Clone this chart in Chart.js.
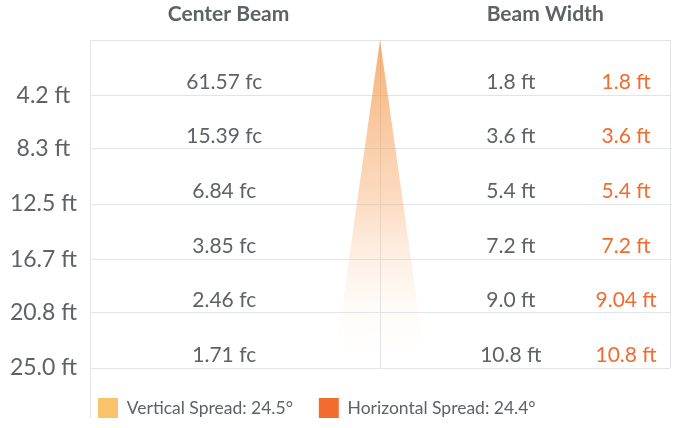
<!DOCTYPE html>
<html>
<head>
<meta charset="utf-8">
<script src="https://cdn.jsdelivr.net/npm/chart.js@4.4.0/dist/chart.umd.min.js"></script>
<style>
  html, body { margin: 0; padding: 0; background: #fff; }
  #wrap { width: 673px; height: 428px; }
</style>
</head>
<body>
<div id="wrap"><canvas id="beam"></canvas></div>
<script>
// beam spread data (distance from fixture, ft)
var distances   = [4.2, 8.3, 12.5, 16.7, 20.8, 25.0];
var centerBeam  = ['61.57', '15.39', '6.84', '3.85', '2.46', '1.71'];
var vertWidth   = ['1.8', '3.6', '5.4', '7.2', '9.0', '10.8'];
var horizWidth  = ['1.8', '3.6', '5.4', '7.2', '9.04', '10.8'];
var headers     = ['Center Beam', 'Beam Width'];
var legendNames = ['Vertical Spread: 24.5°', 'Horizontal Spread: 24.4°'];
var throwFt     = 25;
var coneHalf    = 5.4;   // half of vertical beam width at throwFt

var GRAY   = '#5e6266';
var ORANGE = '#f26b2f';
var LINE   = '#e1e5e8';
var FONT   = 'Lato, "Open Sans", sans-serif';

// x positions of columns, in axis units
var X_MIN = -33.7, X_MAX = 33.7;
var colCenter = -18.1, colVert = 15.2, colHoriz = 28.6;
var headX = [-17.6, 19.2];

var yTicks = [0].concat(distances);

var tableText = {
  id: 'tableText',
  afterDatasetsDraw: function(chart) {
    var ctx = chart.ctx, x = chart.scales.x, y = chart.scales.y;
    ctx.save();
    ctx.font = '21px ' + FONT;
    ctx.textAlign = 'center';
    ctx.textBaseline = 'middle';
    distances.forEach(function(d, i) {
      var py = y.getPixelForValue(d) - 13;
      ctx.fillStyle = GRAY;
      ctx.fillText(centerBeam[i] + ' fc', x.getPixelForValue(colCenter), py);
      ctx.fillText(vertWidth[i] + ' ft', x.getPixelForValue(colVert), py);
      ctx.fillStyle = ORANGE;
      ctx.fillText(horizWidth[i] + ' ft', x.getPixelForValue(colHoriz), py);
    });
    // axis rule continues down past the plot
    var a = chart.chartArea;
    ctx.strokeStyle = LINE;
    ctx.lineWidth = 1;
    ctx.beginPath();
    ctx.moveTo(a.left + 0.5, a.bottom);
    ctx.lineTo(a.left + 0.5, 418);
    ctx.stroke();
    ctx.restore();
  }
};

new Chart(document.getElementById('beam'), {
  type: 'scatter',
  data: {
    datasets: [{
      label: 'cone',
      data: [{x: -coneHalf, y: throwFt}, {x: 0, y: 0}, {x: coneHalf, y: throwFt}],
      showLine: true,
      borderWidth: 0,
      pointRadius: 0,
      fill: {value: throwFt},
      backgroundColor: function(c) {
        var a = c.chart.chartArea;
        if (!a) return 'rgba(242,140,50,0.7)';
        var g = c.chart.ctx.createLinearGradient(0, a.top, 0, a.bottom);
        g.addColorStop(0, 'rgba(243,150,70,0.75)');
        g.addColorStop(0.5, 'rgba(247,168,105,0.4)');
        g.addColorStop(1, 'rgba(255,255,255,0)');
        return g;
      }
    }]
  },
  options: {
    responsive: true,
    maintainAspectRatio: false,
    animation: false,
    layout: { padding: { left: 0, right: 3, top: 0, bottom: 0 } },
    plugins: {
      tooltip: { enabled: false },
      legend: {
        position: 'bottom',
        align: 'start',
        fullSize: false,
        labels: {
          boxWidth: 20,
          boxHeight: 20,
          padding: 8,
          color: GRAY,
          font: { family: FONT, size: 17.5 },
          generateLabels: function() {
            return legendNames.map(function(n, i) {
              return {
                text: n + (i === 0 ? '    ' : ''),
                fillStyle: i === 0 ? '#fbc36c' : ORANGE,
                strokeStyle: 'rgba(0,0,0,0)',
                lineWidth: 0,
                fontColor: GRAY,
                datasetIndex: 0
              };
            });
          }
        }
      }
    },
    scales: {
      x: {
        type: 'linear',
        min: X_MIN, max: X_MAX,
        afterBuildTicks: function(s) {
          s.ticks = [{value: X_MIN}, {value: 0}, {value: X_MAX}];
        },
        afterFit: function(s) { s.height = 22; },
        ticks: { display: false },
        border: { display: false },
        grid: { color: LINE, drawTicks: false }
      },
      top: {
        type: 'linear',
        position: 'top',
        min: X_MIN, max: X_MAX,
        afterBuildTicks: function(s) {
          s.ticks = headX.map(function(v) { return {value: v}; });
        },
        afterFit: function(s) { s.height = 40; },
        ticks: {
          autoSkip: false,
          maxRotation: 0,
          padding: 13,
          color: GRAY,
          font: { family: FONT, size: 21, weight: 'bold' },
          callback: function(v, i) { return headers[i]; }
        },
        border: { display: false },
        grid: { display: false, drawTicks: false }
      },
      y: {
        type: 'linear',
        reverse: true,
        min: 0, max: throwFt,
        afterBuildTicks: function(s) {
          s.ticks = yTicks.map(function(v) { return {value: v}; });
        },
        afterFit: function(s) { s.width = 90; },
        ticks: {
          padding: 13,
          crossAlign: 'center',
          color: GRAY,
          font: { family: FONT, size: 23 },
          callback: function(v) { return v === 0 ? '' : v.toFixed(1) + ' ft'; }
        },
        border: { display: true, color: LINE },
        grid: { color: LINE, drawTicks: false }
      }
    }
  },
  plugins: [tableText]
});
</script>
</body>
</html>
